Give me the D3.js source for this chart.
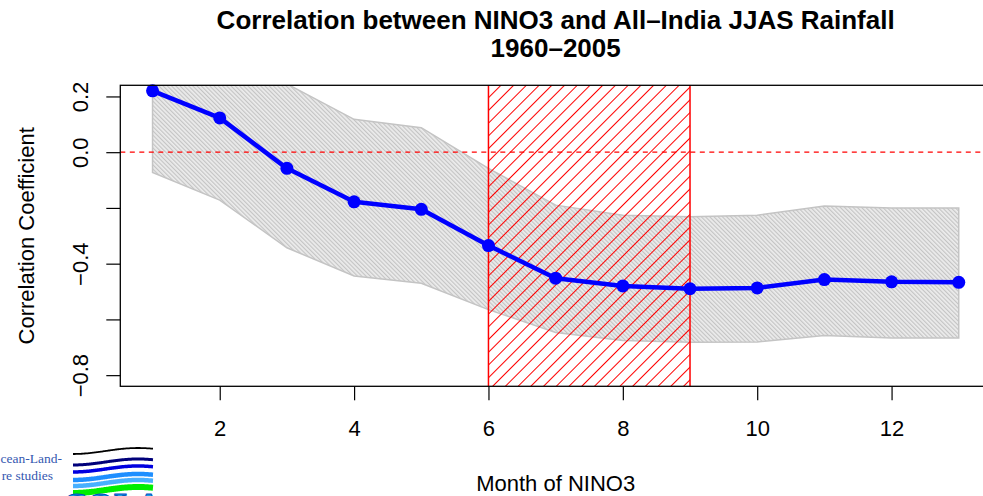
<!DOCTYPE html>
<html>
<head>
<meta charset="utf-8">
<script src="https://cdn.jsdelivr.net/npm/d3@7"></script>
<style>
  html, body { margin: 0; padding: 0; background: #fff; }
  svg { display: block; font-family: "Liberation Sans", Arial, Helvetica, sans-serif; }
</style>
</head>
<body>
<svg id="chart" width="983" height="496"></svg>
<script>
// DATA

const months = [1, 2, 3, 4, 5, 6, 7, 8, 9, 10, 11, 12, 13];
const corr   = [0.22, 0.123, -0.058, -0.178, -0.205, -0.335, -0.452, -0.48, -0.49, -0.487, -0.457, -0.465, -0.467];
const upper  = [0.40, 0.32, 0.245, 0.118, 0.088, -0.058, -0.19, -0.226, -0.232, -0.226, -0.193, -0.2, -0.2];
const lower  = [-0.073, -0.172, -0.343, -0.444, -0.47, -0.565, -0.647, -0.676, -0.682, -0.681, -0.658, -0.667, -0.667];
const highlight = [6, 9];                 // hatched month window
const xTicks = [2, 4, 6, 8, 10, 12];
const yTicks = [0.2, 0.0, -0.2, -0.4, -0.6, -0.8];
const yLabelled = [0.2, 0.0, -0.4, -0.8];   // R drops the crowded ones

const titleLines = ["Correlation between NINO3 and All\u2013India JJAS Rainfall", "1960\u20132005"];

// LAYOUT

const svg = d3.select("#chart");
const plot = { left: 120.3, right: 991, top: 85.3, bottom: 386.3 };

const x = d3.scaleLinear().domain([0.52, 13.48]).range([plot.left, plot.right]);
const y = d3.scaleLinear().domain([-0.84, 0.24]).range([plot.bottom, plot.top]);

const defs = svg.append("defs");

defs.append("clipPath").attr("id", "plot-clip")
  .append("rect")
  .attr("x", plot.left).attr("y", plot.top)
  .attr("width", plot.right - plot.left).attr("height", plot.bottom - plot.top);

// fine grey shading for the band
const greyPat = defs.append("pattern")
  .attr("id", "grey-hatch")
  .attr("patternUnits", "userSpaceOnUse")
  .attr("width", 3).attr("height", 3)
  .attr("patternTransform", "rotate(-45)");
greyPat.append("rect").attr("width", 3).attr("height", 3).attr("fill", "#ececec");
greyPat.append("line").attr("x1", 0.6).attr("x2", 0.6).attr("y1", 0).attr("y2", 3)
  .attr("stroke", "#c2c2c2").attr("stroke-width", 1.1);

// red "/" hatching for the month window
const redPat = defs.append("pattern")
  .attr("id", "red-hatch")
  .attr("patternUnits", "userSpaceOnUse")
  .attr("width", 9).attr("height", 9)
  .attr("patternTransform", "rotate(45)");
redPat.append("line").attr("x1", 0.5).attr("x2", 0.5).attr("y1", 0).attr("y2", 9)
  .attr("stroke", "#ff0000").attr("stroke-width", 1);

const g = svg.append("g").attr("clip-path", "url(#plot-clip)");

// ── confidence band ──
const band = d3.area()
  .x((d, i) => x(months[i]))
  .y0((d, i) => y(lower[i]))
  .y1((d, i) => y(upper[i]));

g.append("path")
  .datum(months)
  .attr("d", band)
  .attr("fill", "url(#grey-hatch)")
  .attr("stroke", "#c4c4c4")
  .attr("stroke-width", 1.5);

// ── zero line ──
g.append("line")
  .attr("x1", plot.left).attr("x2", plot.right)
  .attr("y1", y(0)).attr("y2", y(0))
  .attr("stroke", "#ff0000")
  .attr("stroke-width", 1.3)
  .attr("stroke-dasharray", "5,4.5");

// ── highlighted window ──
g.append("rect")
  .attr("x", x(highlight[0]))
  .attr("y", y(0.3))
  .attr("width", x(highlight[1]) - x(highlight[0]))
  .attr("height", y(-0.9) - y(0.3))
  .attr("fill", "url(#red-hatch)")
  .attr("stroke", "#ff0000")
  .attr("stroke-width", 1.5);

// ── correlation line + points ──
const line = d3.line()
  .x((d, i) => x(months[i]))
  .y(d => y(d));

svg.append("path")
  .datum(corr)
  .attr("d", line)
  .attr("fill", "none")
  .attr("stroke", "#0000ff")
  .attr("stroke-width", 4.5)
  .attr("stroke-linejoin", "round");

svg.selectAll(".pt")
  .data(corr)
  .join("circle")
  .attr("class", "pt")
  .attr("cx", (d, i) => x(months[i]))
  .attr("cy", d => y(d))
  .attr("r", 6.5)
  .attr("fill", "#0000ff");

// AXES

const xAxis = svg.append("g")
  .attr("transform", `translate(0,${plot.bottom})`)
  .call(d3.axisBottom(x).tickValues(xTicks).tickSize(14).tickFormat(d3.format("d")));

const yAxis = svg.append("g")
  .attr("transform", `translate(${plot.left},0)`)
  .call(d3.axisLeft(y).tickValues(yTicks).tickSize(14));

[xAxis, yAxis].forEach(ax => {
  ax.select(".domain").remove();
  ax.selectAll(".tick line").attr("stroke", "#000").attr("stroke-width", 1.2);
  ax.selectAll(".tick text").attr("fill", "#000").attr("font-size", 22)
    .attr("font-family", "'Liberation Sans', Arial, Helvetica, sans-serif");
});

xAxis.selectAll(".tick text").attr("dy", null).attr("y", 50);

// rotated y labels, R style
yAxis.selectAll(".tick text")
  .attr("x", null).attr("dy", null)
  .attr("text-anchor", "middle")
  .attr("transform", "translate(-32,0) rotate(-90)")
  .text(d => yLabelled.some(v => Math.abs(v - d) < 1e-9) ? d3.format(".1f")(d) : "");

// plot box
svg.append("rect")
  .attr("x", plot.left).attr("y", plot.top)
  .attr("width", plot.right - plot.left).attr("height", plot.bottom - plot.top)
  .attr("fill", "none").attr("stroke", "#000").attr("stroke-width", 1.3);

// TITLES

const cx = (plot.left + plot.right) / 2;

svg.selectAll(".title")
  .data(titleLines)
  .join("text")
  .attr("class", "title")
  .attr("x", cx)
  .attr("y", (d, i) => 29 + i * 28)
  .attr("text-anchor", "middle")
  .attr("font-weight", "bold")
  .attr("font-size", 26)
  .text(d => d);

svg.append("text")
  .attr("x", cx).attr("y", 491)
  .attr("text-anchor", "middle")
  .attr("font-size", 22)
  .text("Month of NINO3");

svg.append("text")
  .attr("transform", `translate(34,${(plot.top + plot.bottom) / 2}) rotate(-90)`)
  .attr("text-anchor", "middle")
  .attr("font-size", 22)
  .text("Correlation Coefficient");

// LOGO (cut off bottom-left corner)

const logo = svg.append("g");

logo.selectAll(".logo-txt")
  .data(["cean-Land-", "re studies"])
  .join("text")
  .attr("x", (d, i) => i === 0 ? 62 : 53)
  .attr("y", (d, i) => 463 + i * 17)
  .attr("text-anchor", "end")
  .attr("font-family", "'Liberation Serif', 'Times New Roman', serif")
  .attr("font-size", 13.5)
  .attr("fill", "#3558b0")
  .text(d => d);

const waves = [
  { dy: 0,  color: "#000000", w: 1.8 },
  { dy: 11, color: "#00007a", w: 3 },
  { dy: 18, color: "#0000e0", w: 3.5 },
  { dy: 26, color: "#1e8fff", w: 4.5 },
  { dy: 32, color: "#48b0ff", w: 4.5 },
  { dy: 39, color: "#00ee00", w: 6 }
];
const waveX = d3.range(73, 154, 2);
const waveLine = d3.line().curve(d3.curveBasis);

logo.selectAll(".wave")
  .data(waves)
  .join("path")
  .attr("d", wv => waveLine(waveX.map(px => [px, 451 + wv.dy + 3 * Math.cos(Math.PI * (px - 73) / 65)])))
  .attr("fill", "none")
  .attr("stroke", wv => wv.color)
  .attr("stroke-width", wv => wv.w);

logo.append("text")
  .attr("x", 112).attr("y", 516)
  .attr("text-anchor", "middle")
  .attr("font-family", "'Liberation Serif', serif")
  .attr("font-weight", "bold")
  .attr("font-size", 34)
  .attr("fill", "#1aa0e8")
  .attr("stroke", "#0050c0")
  .attr("stroke-width", 1)
  .text("COLA");
</script>
</body>
</html>
